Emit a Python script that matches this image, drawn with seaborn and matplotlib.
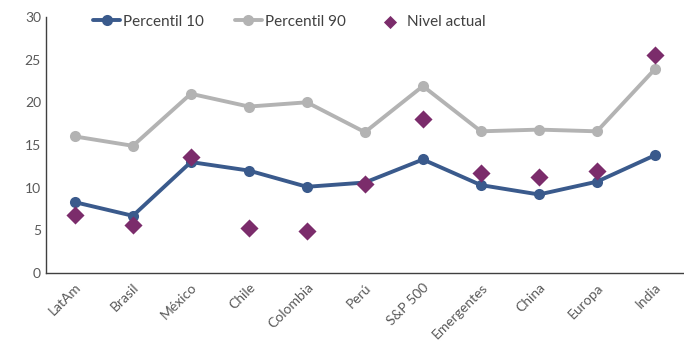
import pandas as pd
import matplotlib.pyplot as plt
import seaborn as sns

mercados = ["LatAm", "Brasil", "México", "Chile", "Colombia", "Perú",
            "S&P 500", "Emergentes", "China", "Europa", "India"]
percentil_10 = [8.3, 6.7, 13.0, 12.0, 10.1, 10.6, 13.3, 10.3, 9.2, 10.7, 13.8]
percentil_90 = [16.0, 14.9, 21.0, 19.5, 20.0, 16.5, 21.9, 16.6, 16.8, 16.6, 23.9]
nivel_actual = [6.8, 5.6, 13.6, 5.3, 4.9, 10.4, 18.0, 11.7, 11.3, 12.0, 25.5]

df = pd.DataFrame({
    "Mercado": mercados,
    "Percentil 10": percentil_10,
    "Percentil 90": percentil_90,
    "Nivel actual": nivel_actual,
})

sns.set_style("white")
plt.rcParams["font.family"] = ["Lato", "DejaVu Sans"]

fig, ax = plt.subplots(figsize=(6.84, 3.46), dpi=100)
fig.subplots_adjust(left=0.067, right=1.0, top=0.951, bottom=0.211)

sns.lineplot(data=df, x="Mercado", y="Percentil 10", ax=ax, color="#3A5A8C",
             linewidth=2.8, marker="o", markersize=8, markeredgewidth=0,
             label="Percentil 10", sort=False)
sns.lineplot(data=df, x="Mercado", y="Percentil 90", ax=ax, color="#B3B3B3",
             linewidth=2.8, marker="o", markersize=8, markeredgewidth=0,
             label="Percentil 90", sort=False)
sns.scatterplot(data=df, x="Mercado", y="Nivel actual", ax=ax, color="#7B2C6B",
                marker="D", s=85, linewidth=0, label="Nivel actual", zorder=5)

ax.set_xlim(-0.5, len(mercados) - 0.5)
ax.set_ylim(0, 30)
ax.set_yticks(range(0, 31, 5))
ax.set_xlabel("")
ax.set_ylabel("")
ax.tick_params(axis="both", colors="#595959", labelsize=10, length=0)
ax.tick_params(axis="x", pad=6)
plt.setp(ax.get_xticklabels(), rotation=45, ha="right", rotation_mode="anchor")

for s in ["top", "right"]:
    ax.spines[s].set_visible(False)
ax.spines["left"].set_color("#404040")
ax.spines["bottom"].set_color("#404040")
ax.spines["left"].set_linewidth(1.0)
ax.spines["bottom"].set_linewidth(1.0)

leg = ax.legend(loc="upper left", bbox_to_anchor=(0.052, 1.063), ncol=3,
                frameon=False, fontsize=11, columnspacing=2.0,
                handlelength=1.8, handletextpad=0.2)
leg.legend_handles[2].set_sizes([45])
for t in leg.get_texts():
    t.set_color("#404040")

fig.savefig("out.png", dpi=100)
